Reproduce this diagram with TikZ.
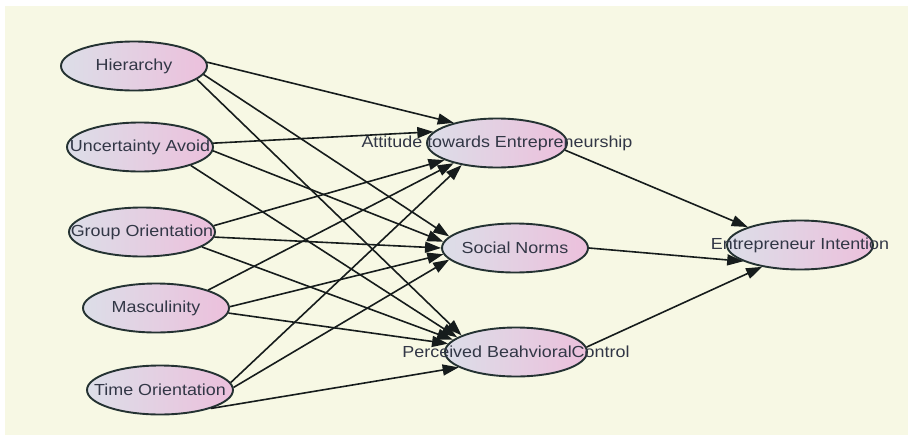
\documentclass[tikz,border=0pt]{standalone}
\usepackage{fontspec}
\newfontfamily\nodefont[FakeStretch=1.12]{Liberation Sans}
\usepackage{tikz}
\usetikzlibrary{shapes.geometric, arrows.meta}
\definecolor{cream}{RGB}{247,248,228}
\definecolor{ellleft}{RGB}{220,222,232}
\definecolor{ellright}{RGB}{236,192,220}
\definecolor{rimdark}{RGB}{36,50,50}
\definecolor{linedark}{RGB}{22,28,28}
\definecolor{labeltext}{RGB}{50,55,70}
\tikzset{
  construct/.style={
    ellipse,
    minimum width=146pt,
    minimum height=49pt,
    inner sep=0pt,
    draw=rimdark,
    line width=1.9pt,
    left color=ellleft,
    right color=ellright,
    text=labeltext,
    font=\nodefont\fontsize{16}{18}\selectfont,
    execute at begin node=\hbox to 0pt\bgroup\hss,
    execute at end node=\hss\egroup
    },
  arrow/.style={
    line width=1.6pt,
    draw=linedark,
    -{Triangle[length=16pt,width=11pt]}
    }
}

\begin{document}
\begin{tikzpicture}[x=1pt,y=-1pt]
\useasboundingbox (0,0) rectangle (908,437);
\fill[cream] (5,6) rectangle (908,435);
% cultural dimensions
\node (hier) [construct] at (134,66) {Hierarchy};
\node (unc) [construct] at (140,147) {Uncertainty Avoid};
\node (grp) [construct] at (142,232) {Group Orientation};
\node (masc) [construct] at (156,308) {Masculinity};
\node (time) [construct] at (160,390) {Time Orientation};
% mediators
\node (att) [construct, minimum width=140pt] at (497,143) {Attitude towards Entrepreneurship};
\node (soc) [construct] at (515,248) {Social Norms};
\node (pbc) [construct, minimum width=142pt] at (516,352) {Perceived BeahvioralControl};
% outcome
\node (ent) [construct] at (800,245) {Entrepreneur Intention};
\draw[{arrow}] (hier.3) -- (att.155);
\draw[{arrow}] (hier.-7) -- (soc.170);
\draw[{arrow}] (hier.-12) -- (pbc.163);
\draw[{arrow}] (unc.3) -- (att.170);
\draw[{arrow}] (unc.-3) -- (soc.175);
\draw[{arrow}] (unc.-20) -- (pbc.166);
\draw[{arrow}] (grp.5) -- (att.198);
\draw[{arrow}] (grp.-4) -- (soc.180);
\draw[{arrow}] (grp.-14) -- (pbc.169);
\draw[{arrow}] (masc.19) -- (att.205);
\draw[{arrow}] (masc.1) -- (soc.185);
\draw[{arrow}] (masc.-4) -- (pbc.173);
\draw[{arrow}] (time.6) -- (att.212);
\draw[{arrow}] (time.2) -- (soc.190);
\draw[{arrow}] (time.-20) -- (pbc.195);
\draw[{arrow}] (att.-6) -- (ent.161);
\draw[{arrow}] (soc.0) -- (ent.196);
\draw[{arrow}] (pbc.4) -- (ent.210);
\end{tikzpicture}
\end{document}
